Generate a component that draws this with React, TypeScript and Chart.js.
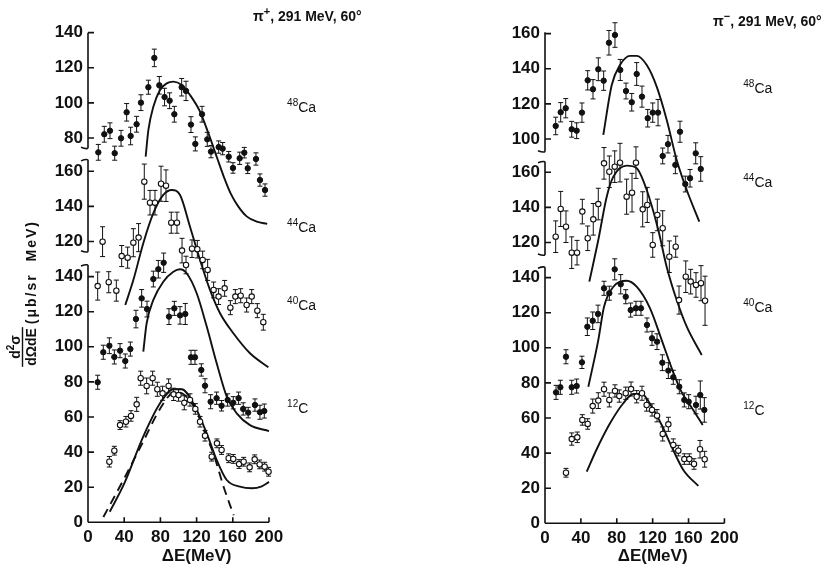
import React, { useEffect, useRef } from 'react';
import { Chart, registerables } from 'chart.js';

Chart.register(...registerables);

// ---------------- tick labels ----------------
const X_TICKS = [0, 40, 80, 120, 160, 200];
const Y_TICKS_LOW = [0, 20, 40, 60, 80, 100, 120, 140];
const Y_TICKS_44CA = [120, 140, 160];
const PIP_Y_TICKS_48CA = [80, 100, 120, 140];
const PIM_Y_TICKS_48CA = [100, 120, 140, 160];

// ---------------- pi+ data ----------------
const PIP_48CA_E = [11.4, 18, 24.3, 29.5, 36.5, 42.7, 47.1, 53.7, 58.5, 66.7, 73.3, 78.8, 84.6, 90.2, 95.4, 103.5, 108.3, 113.8, 118.6, 126, 131.8, 135.9, 144.4, 148.8, 155.5, 160.2, 167.6, 172.7, 176.5, 185.6, 190, 195.6];
const PIP_48CA_Y = [71.8, 82.1, 84.1, 71.3, 79.8, 94.6, 81.1, 87.8, 100.1, 108.9, 125.6, 110, 103.3, 101.2, 93.5, 108.9, 106.8, 87.6, 76.6, 93.5, 79.2, 72.2, 74.8, 73.9, 69.3, 62.9, 68.4, 71.6, 62.7, 68, 56, 50.3];
const PIP_48CA_ERR = [4.5, 4.5, 4.5, 4, 4.5, 5, 5, 4.5, 4.5, 4, 5, 5, 5, 4.5, 4.5, 5, 5.5, 4.5, 4, 4.5, 4, 3.5, 3.5, 3.5, 3, 3, 3.5, 3, 3, 3.5, 3.5, 3.5];

const PIP_44CA_E = [10.7, 16.1, 22.9, 31.3, 37.2, 43.8, 50.1, 55.9, 62.2, 68.5, 74, 80.7, 86.2, 92, 98.3, 103.9, 108.3, 114.9, 120.8, 126.7, 132.2, 138.8, 144.3, 151, 157.3, 162.8, 168.7, 175.3, 180.9, 187.1, 193.7];
const PIP_44CA_Y = [94.6, 119.9, 96.8, 92, 111.7, 110.8, 119.3, 122.2, 154.1, 142.1, 142.1, 152.9, 151.8, 130.7, 130.7, 114.8, 106.6, 115.9, 115.6, 109.5, 103.8, 92.4, 88.6, 93.3, 82.3, 88.6, 89.1, 83.8, 88.6, 80.6, 74];
const PIP_44CA_ERR = [8, 8.5, 6, 6, 6, 6, 8, 8, 10, 7, 7, 10, 9, 6, 6, 7, 5, 5, 5, 5, 6, 4.5, 4.5, 4.5, 4, 4, 4, 4, 4, 4, 4.5];

const PIP_40CA_E = [10.7, 16.9, 23.6, 29.1, 35.4, 41.2, 46.8, 53, 59.3, 65.2, 72.2, 77.7, 83.6, 89.5, 95.4, 101.7, 107.5, 113.8, 118.2, 125.2, 129.3, 135.5, 142.1, 147.6, 154.3, 160.5, 166.4, 171.5, 177, 184.5, 190, 194.8];
const PIP_40CA_Y = [79.8, 96.9, 100.6, 94.2, 97.8, 91.9, 98.7, 115.8, 127.6, 121.5, 138.6, 144.2, 147.9, 117.2, 121.9, 117.9, 118.7, 94, 94, 86.8, 77.8, 68.7, 70.7, 66.4, 69.7, 68.1, 70.7, 64.6, 62.5, 66.8, 62.7, 63.4];
const PIP_40CA_ERR = [4, 4, 4.5, 4, 4, 4, 4, 5, 5, 4.5, 4.5, 5, 5.5, 4.5, 4, 5, 6, 4, 4, 3.5, 4, 4, 3.5, 3, 3.5, 3.5, 3.5, 3.5, 3, 3.5, 4, 4];

const PIP_12C_E = [23.6, 29.1, 35.4, 41.9, 47.5, 53.8, 58.2, 64.8, 71.4, 76.6, 82.4, 89.1, 94.6, 100.1, 106.4, 112.7, 118.6, 123.8, 129.3, 136.7, 142.5, 147.6, 155.4, 160.5, 166.9, 172, 178.6, 184.2, 189.7, 195.2, 199.5];
const PIP_12C_Y = [34.5, 40.8, 55.4, 57.3, 60.6, 67.2, 82.1, 77.7, 82.1, 75.8, 73.5, 77.7, 72.9, 72.5, 68.1, 69.7, 64.6, 57.3, 49.3, 37.4, 45, 41.2, 36.5, 36.1, 33.2, 34.5, 31.3, 35.9, 33, 31.7, 28.8];
const PIP_12C_ERR = [3, 2.5, 2.5, 3, 3, 4, 4, 4.5, 4, 4, 4, 4, 3.5, 3.5, 4, 3.5, 3, 3, 3, 2.5, 2.5, 2.5, 2.5, 2.5, 2.5, 2.5, 2.5, 2.5, 2.5, 2.5, 2.5];

const PIP_48CA_TH_E = [63.7, 66.7, 72.2, 79.6, 86.9, 94.3, 103.5, 112.7, 123.8, 133, 142.2, 150, 158, 166, 175.3, 186.4, 198];
const PIP_48CA_TH_Y = [69.3, 84.5, 97.8, 107.3, 111.1, 112.1, 110.2, 104.5, 95, 82.7, 69.3, 58, 48, 41, 35.3, 32.3, 31];
const PIP_44CA_TH_E = [41.2, 50.1, 61.1, 72.2, 83.2, 92.5, 101.7, 112.7, 123.8, 134.8, 145.9, 160.6, 179, 199.3];
const PIP_44CA_TH_Y = [83.8, 98, 119, 136.1, 146.5, 149.3, 146.5, 128.4, 109.5, 92.4, 79.1, 67.7, 56.3, 48.3];
const PIP_40CA_TH_E = [61.1, 64.8, 72.2, 83.2, 94.3, 101.7, 109, 120.1, 131.2, 142.2, 153.3, 164.3, 179, 200];
const PIP_40CA_TH_Y = [97.2, 113.4, 126.7, 137.1, 142.8, 144.2, 141.9, 130.5, 111.5, 90.6, 71.6, 62.1, 55.4, 52];
const PIP_12C_TH_E = [24, 40, 61, 79.6, 94.3, 103.5, 116.4, 131.2, 142.2, 153.3, 167.9, 181, 192, 200];
const PIP_12C_TH_Y = [6, 22, 48.8, 67.8, 75.8, 75.8, 67.8, 50.7, 35.5, 24.1, 20.3, 19.4, 20.5, 23];
const PIP_12C_DASH_E = [17, 40, 60, 80, 93, 100, 110, 120, 130, 138.5, 150, 161];
const PIP_12C_DASH_Y = [3, 25, 45, 65, 73.5, 74, 71, 63, 50, 39.3, 20, 4];

// ---------------- pi- data ----------------
const PIM_48CA_E = [11.9, 17.5, 23.1, 29.8, 35.3, 41.2, 47.6, 53.5, 59.4, 65.4, 71.3, 78, 83.9, 90.3, 96.7, 102.2, 108.1, 114.5, 120.1, 126, 131.2, 137.1, 145.3, 150.5, 156.4, 161.7, 168, 173.6];
const PIM_48CA_Y = [107.4, 115.2, 117.5, 105.5, 104.7, 115, 133.4, 128.3, 139.7, 133.2, 154.8, 159.2, 139.3, 127.3, 120.9, 137, 124.1, 111.8, 115, 115, 90.3, 97, 85.2, 104.1, 74.3, 77.6, 91.8, 82.9];
const PIM_48CA_ERR = [5, 5.5, 5.5, 4.5, 4.5, 5.5, 5.5, 5.5, 6.5, 5.5, 7, 7, 6, 4.5, 5, 6.5, 6, 5, 5.5, 7.5, 4.5, 5, 5, 6, 4.5, 5, 6, 7];

const PIM_44CA_E = [11.9, 17.5, 23.4, 29.8, 35.7, 41.6, 47.6, 53.8, 59.4, 65.8, 71.7, 77.7, 83.6, 91, 97, 101.4, 108.9, 114, 120.1, 125.2, 131.2, 138.6, 145.7, 149.4, 156.9, 162.4, 168.3, 173.9, 178.4];
const PIM_44CA_Y = [123.3, 139.1, 129, 114.2, 114.2, 137.6, 122.4, 133.2, 141.9, 165.1, 160.3, 163.2, 165.5, 146.1, 148.4, 165.5, 138.9, 141.4, 118.6, 135.7, 128.1, 111.9, 117.6, 87.2, 100.5, 97.7, 95.8, 96.8, 86.8];
const PIM_44CA_ERR = [9, 10, 9, 9, 7, 7, 7, 9, 9, 9, 9, 9, 11, 10, 11, 9, 10, 10, 7, 9, 10, 9, 6, 8, 9, 7, 7, 10, 14];

const PIM_40CA_E = [12.3, 17.1, 23.4, 29.8, 35.3, 41.2, 47.2, 53.2, 59.1, 65.8, 71.7, 77.7, 84.4, 90, 95.5, 101.4, 107, 113.7, 119.3, 124.9, 130.8, 137.5, 143, 149.7, 155.3, 160.2, 168.3, 173.1, 177.6];
const PIM_40CA_Y = [74.6, 77.5, 94.9, 77.5, 78.2, 91.7, 112, 115.4, 119.3, 133.9, 131.1, 144.7, 136.2, 129.1, 121.5, 122.5, 122.5, 113, 105.4, 103.5, 91.5, 87, 83.2, 77.8, 70.3, 69.3, 67.4, 73.1, 64.6];
const PIM_40CA_ERR = [4, 4, 4, 4, 4, 3.5, 5, 5, 5, 4, 4, 6, 5.5, 4, 4, 4, 4, 4, 4, 4.5, 4.5, 4.5, 4, 4, 4, 4, 5, 8, 7];

const PIM_12C_E = [23.4, 29.8, 36, 41.6, 47.6, 53.2, 59.4, 65.8, 71.7, 78, 82.8, 90, 95.9, 102.2, 108.1, 113.3, 119.3, 124.9, 131.2, 137.5, 143, 148.6, 155.3, 160.9, 166.1, 172.8, 178];
const PIM_12C_Y = [28.8, 48, 49, 58.9, 56.6, 66.8, 69.9, 76.4, 70.3, 75.4, 72.5, 74.1, 76.5, 72.1, 74.1, 67.4, 64.6, 61.3, 50.9, 56.4, 44.6, 41.4, 36.6, 36.6, 33.8, 42.2, 36.5];
const PIM_12C_ERR = [2.5, 3.5, 3, 3, 3, 4, 4.5, 4, 4, 3.5, 3.5, 3.5, 4, 3.5, 4, 3.5, 3.5, 3.5, 4, 4, 3.5, 3, 3, 3, 3, 5, 4.5];

const PIM_48CA_TH_E = [65, 74.4, 83.6, 94.8, 102.2, 113.4, 124.5, 135.7, 146.8, 158, 172];
const PIM_48CA_TH_Y = [102.3, 130.7, 142.1, 147.3, 147.3, 142.1, 129.8, 110.8, 88, 70.9, 52.9];
const PIM_44CA_TH_E = [49.4, 59.4, 68.8, 76.2, 91.1, 102.2, 113.4, 126.3, 135.6, 146.8, 158, 174.7];
const PIM_44CA_TH_Y = [97.7, 121.4, 146.1, 157.5, 163.8, 162.3, 149.9, 127.1, 106.2, 87.2, 72, 55.9];
const PIM_40CA_TH_E = [48.3, 59.4, 65.8, 76.2, 91.1, 102.2, 117.1, 130.1, 143, 152, 161.6, 175.8];
const PIM_40CA_TH_Y = [77.8, 104.4, 123.4, 134.8, 138.2, 134.8, 122.5, 104.4, 86, 75, 67.4, 56];
const PIM_12C_TH_E = [46.5, 57.6, 72.5, 87.3, 98.4, 107.8, 119, 130.1, 141.2, 154.2, 170.9];
const PIM_12C_TH_Y = [29.4, 42.2, 57, 68.4, 73.7, 73.7, 66.4, 56, 43.6, 30.4, 21.3];

// ---------------- layout ----------------
const FONT = "'Liberation Sans', Arial, Helvetica, sans-serif";
const INK = '#111';

type Series = { e: number[]; y: number[]; err: number[]; open: boolean; seg: number };
type Curve = { e: number[]; y: number[]; seg: number; dashed?: boolean };
type Label = { sup: string; main: string; v: number };

interface PanelSpec {
  left: number;
  areaLeft: number;
  padRight: number;
  padTop: number;
  xAxisH: number;
  yMax: number;
  xMax: number;
  offsets: number[];
  tickSets: number[][];
  axisSegs: [number, number][];
  series: Series[];
  curves: Curve[];
  labels: Label[];
  labelE: number;
  sign: string;
  titleX: number;
  titleY: number;
  yTitle: boolean;
}

const LEFT_SPEC: PanelSpec = {
  left: 0,
  areaLeft: 88,
  padRight: 108.8,
  padTop: 22.1,
  xAxisH: 44.7,
  yMax: 285,
  xMax: 240,
  offsets: [0, 40, 139],
  tickSets: [Y_TICKS_LOW, Y_TICKS_44CA, PIP_Y_TICKS_48CA],
  axisSegs: [[0, 146.6], [154.2, 206.5], [213.1, 279]],
  series: [
    { e: PIP_48CA_E, y: PIP_48CA_Y, err: PIP_48CA_ERR, open: false, seg: 2 },
    { e: PIP_44CA_E, y: PIP_44CA_Y, err: PIP_44CA_ERR, open: true, seg: 1 },
    { e: PIP_40CA_E, y: PIP_40CA_Y, err: PIP_40CA_ERR, open: false, seg: 0 },
    { e: PIP_12C_E, y: PIP_12C_Y, err: PIP_12C_ERR, open: true, seg: 0 },
  ],
  curves: [
    { e: PIP_48CA_TH_E, y: PIP_48CA_TH_Y, seg: 2 },
    { e: PIP_44CA_TH_E, y: PIP_44CA_TH_Y, seg: 1 },
    { e: PIP_40CA_TH_E, y: PIP_40CA_TH_Y, seg: 0 },
    { e: PIP_12C_TH_E, y: PIP_12C_TH_Y, seg: 0 },
    { e: PIP_12C_DASH_E, y: PIP_12C_DASH_Y, seg: 0, dashed: true },
  ],
  labels: [
    { sup: '48', main: 'Ca', v: 233.8 },
    { sup: '44', main: 'Ca', v: 165.4 },
    { sup: '40', main: 'Ca', v: 121 },
    { sup: '12', main: 'C', v: 62.3 },
  ],
  labelE: 220,
  sign: '+',
  titleX: 253,
  titleY: 21,
  yTitle: true,
};

const RIGHT_SPEC: PanelSpec = {
  left: 414,
  areaLeft: 131,
  padRight: 67.7,
  padTop: 23.1,
  xAxisH: 43.7,
  yMax: 285,
  xMax: 240,
  offsets: [0, 40, 119],
  tickSets: [Y_TICKS_LOW, Y_TICKS_44CA, PIM_Y_TICKS_48CA],
  axisSegs: [[0, 145.9], [152.9, 206], [211.7, 279.8]],
  series: [
    { e: PIM_48CA_E, y: PIM_48CA_Y, err: PIM_48CA_ERR, open: false, seg: 2 },
    { e: PIM_44CA_E, y: PIM_44CA_Y, err: PIM_44CA_ERR, open: true, seg: 1 },
    { e: PIM_40CA_E, y: PIM_40CA_Y, err: PIM_40CA_ERR, open: false, seg: 0 },
    { e: PIM_12C_E, y: PIM_12C_Y, err: PIM_12C_ERR, open: true, seg: 0 },
  ],
  curves: [
    { e: PIM_48CA_TH_E, y: PIM_48CA_TH_Y, seg: 2 },
    { e: PIM_44CA_TH_E, y: PIM_44CA_TH_Y, seg: 1 },
    { e: PIM_40CA_TH_E, y: PIM_40CA_TH_Y, seg: 0 },
    { e: PIM_12C_TH_E, y: PIM_12C_TH_Y, seg: 0 },
  ],
  labels: [
    { sup: '48', main: 'Ca', v: 245.2 },
    { sup: '44', main: 'Ca', v: 191.6 },
    { sup: '40', main: 'Ca', v: 120.4 },
    { sup: '12', main: 'C', v: 61.7 },
  ],
  labelE: 221,
  sign: '\u2212',
  titleX: 299,
  titleY: 26,
  yTitle: false,
};

function drawParts(
  ctx: CanvasRenderingContext2D,
  x: number,
  y: number,
  parts: { t: string; sup?: boolean }[],
  size: number,
  supSize: number,
  weight: string,
  rise: number,
) {
  let cx = x;
  for (const p of parts) {
    ctx.font = `${weight} ${p.sup ? supSize : size}px ${FONT}`;
    ctx.fillText(p.t, cx, p.sup ? y - rise : y);
    cx += ctx.measureText(p.t).width;
  }
  return cx - x;
}

function measureParts(ctx: CanvasRenderingContext2D, parts: { t: string; sup?: boolean }[], size: number, supSize: number, weight: string) {
  let w = 0;
  for (const p of parts) {
    ctx.font = `${weight} ${p.sup ? supSize : size}px ${FONT}`;
    w += ctx.measureText(p.t).width;
  }
  return w;
}

function makePlugin(spec: PanelSpec, tickVals: number[]) {
  return {
    id: 'panelDecor' + spec.left,
    beforeDatasetsDraw(chart: any) {
      const ctx: CanvasRenderingContext2D = chart.ctx;
      const xs = chart.scales.x;
      const ys = chart.scales.y;
      ctx.save();
      ctx.strokeStyle = INK;
      ctx.lineWidth = 1;
      chart.data.datasets.forEach((ds: any) => {
        if (!ds.errs) return;
        ds.data.forEach((p: any, i: number) => {
          const px = xs.getPixelForValue(p.x);
          const y1 = ys.getPixelForValue(p.y + ds.errs[i]);
          const y2 = ys.getPixelForValue(p.y - ds.errs[i]);
          ctx.beginPath();
          ctx.moveTo(px, y1);
          ctx.lineTo(px, y2);
          ctx.moveTo(px - 2.5, y1);
          ctx.lineTo(px + 2.5, y1);
          ctx.moveTo(px - 2.5, y2);
          ctx.lineTo(px + 2.5, y2);
          ctx.stroke();
        });
      });
      ctx.restore();
    },
    afterDraw(chart: any) {
      const ctx: CanvasRenderingContext2D = chart.ctx;
      const xs = chart.scales.x;
      const ys = chart.scales.y;
      const x0 = xs.getPixelForValue(0);
      const xEnd = xs.getPixelForValue(X_TICKS[X_TICKS.length - 1]);
      const yb = ys.getPixelForValue(0);
      ctx.save();
      ctx.strokeStyle = INK;
      ctx.lineWidth = 1.6;
      ctx.lineCap = 'butt';
      ctx.beginPath();
      ctx.moveTo(x0, yb);
      ctx.lineTo(xEnd, yb);
      X_TICKS.forEach((t) => {
        const px = xs.getPixelForValue(t);
        ctx.moveTo(px, yb);
        ctx.lineTo(px, yb - 5);
      });
      spec.axisSegs.forEach(([a, b], i) => {
        const pa = ys.getPixelForValue(a);
        const pb = ys.getPixelForValue(b);
        ctx.moveTo(x0, pa);
        ctx.lineTo(x0, pb);
        if (i < spec.axisSegs.length - 1) {
          ctx.moveTo(x0, pb);
          ctx.quadraticCurveTo(x0 - 2, pb - 1, x0 - 7, pb + 1);
        }
        if (i > 0) {
          ctx.moveTo(x0, pa);
          ctx.quadraticCurveTo(x0 - 2, pa + 1, x0 - 7, pa - 1);
        }
      });
      tickVals.forEach((v) => {
        const py = ys.getPixelForValue(v);
        ctx.moveTo(x0, py);
        ctx.lineTo(x0 + 6, py);
      });
      ctx.stroke();

      // isotope labels
      ctx.fillStyle = INK;
      ctx.textBaseline = 'alphabetic';
      ctx.textAlign = 'left';
      const lx = xs.getPixelForValue(spec.labelE);
      spec.labels.forEach((l) => {
        drawParts(ctx, lx, ys.getPixelForValue(l.v), [{ t: l.sup, sup: true }, { t: l.main }], 14, 10, 'normal', 6);
      });

      // panel title
      drawParts(
        ctx,
        spec.titleX,
        spec.titleY,
        [{ t: '\u03c0' }, { t: spec.sign, sup: true }, { t: ', 291 MeV, 60\u00b0' }],
        14,
        11,
        'bold',
        6,
      );

      // y-axis title
      if (spec.yTitle) {
        ctx.translate(30, 347);
        ctx.rotate(-Math.PI / 2);
        const num = [{ t: 'd' }, { t: '2', sup: true }, { t: '\u03c3' }];
        const nw = measureParts(ctx, num, 14, 10, 'bold');
        drawParts(ctx, -nw / 2, -10, num, 14, 10, 'bold', 6);
        ctx.font = `bold 14px ${FONT}`;
        const den = 'd\u03a9dE';
        const dw = ctx.measureText(den).width;
        ctx.fillText(den, -dw / 2, 6);
        ctx.lineWidth = 1.4;
        ctx.beginPath();
        ctx.moveTo(-dw / 2 - 1, -7.5);
        ctx.lineTo(dw / 2 + 1, -7.5);
        ctx.stroke();
        (ctx as any).letterSpacing = '2px';
        ctx.fillText('(\u03bcb/sr  MeV)', dw / 2 + 4, 6);
        (ctx as any).letterSpacing = '0px';
      }
      ctx.restore();
    },
  };
}

function buildConfig(spec: PanelSpec): any {
  const ticks: { v: number; label: string }[] = [];
  spec.tickSets.forEach((set, s) => set.forEach((t) => ticks.push({ v: t + spec.offsets[s], label: String(t) })));

  const datasets: any[] = [];
  spec.curves.forEach((c) => {
    const off = spec.offsets[c.seg];
    datasets.push({
      type: 'line',
      data: c.e.map((e, i) => ({ x: e, y: c.y[i] + off })),
      borderColor: INK,
      borderWidth: 1.9,
      borderDash: c.dashed ? [9, 6] : [],
      pointRadius: 0,
      cubicInterpolationMode: 'monotone',
      fill: false,
      showLine: true,
      order: 2,
    });
  });
  spec.series.forEach((s) => {
    const off = spec.offsets[s.seg];
    datasets.push({
      type: 'scatter',
      data: s.e.map((e, i) => ({ x: e, y: s.y[i] + off })),
      errs: s.err,
      pointRadius: 2.7,
      pointBackgroundColor: s.open ? '#ffffff' : INK,
      pointBorderColor: INK,
      pointBorderWidth: s.open ? 1.1 : 1,
      showLine: false,
      order: 1,
    });
  });

  const tickFont = { family: FONT, size: 17, weight: 'bold' as const };

  return {
    type: 'scatter',
    data: { datasets },
    plugins: [makePlugin(spec, ticks.map((t) => t.v))],
    options: {
      responsive: false,
      animation: false,
      devicePixelRatio: 1,
      events: [],
      layout: { padding: { left: 0, right: spec.padRight, top: spec.padTop, bottom: 0 } },
      plugins: { legend: { display: false }, tooltip: { enabled: false }, title: { display: false } },
      scales: {
        x: {
          type: 'linear',
          min: 0,
          max: spec.xMax,
          afterBuildTicks: (s: any) => {
            s.ticks = X_TICKS.map((v) => ({ value: v }));
          },
          afterFit: (s: any) => {
            s.height = spec.xAxisH;
          },
          grid: { display: false, drawTicks: false, tickLength: 0 },
          border: { display: false },
          ticks: {
            color: INK,
            font: tickFont,
            padding: 5,
            maxRotation: 0,
            autoSkip: false,
            callback: (v: any) => String(v),
          },
          title: {
            display: true,
            text: '\u0394E(MeV)',
            color: INK,
            font: { family: FONT, size: 17, weight: 'bold' },
            padding: { top: 0, bottom: 0 },
          },
        },
        y: {
          type: 'linear',
          min: 0,
          max: spec.yMax,
          afterBuildTicks: (s: any) => {
            s.ticks = ticks.map((t) => ({ value: t.v }));
          },
          afterFit: (s: any) => {
            s.width = spec.areaLeft;
          },
          grid: { display: false, drawTicks: false, tickLength: 0 },
          border: { display: false },
          ticks: {
            color: INK,
            font: tickFont,
            padding: 5,
            autoSkip: false,
            callback: (_v: any, i: number) => (ticks[i] ? ticks[i].label : ''),
          },
        },
      },
    },
  };
}

function Panel({ spec }: { spec: PanelSpec }) {
  const ref = useRef<HTMLCanvasElement | null>(null);
  useEffect(() => {
    if (!ref.current) return;
    const chart = new Chart(ref.current, buildConfig(spec));
    return () => chart.destroy();
  }, [spec]);
  return (
    <canvas
      ref={ref}
      width={414}
      height={567}
      style={{ position: 'absolute', left: spec.left, top: 0, width: 414, height: 567 }}
    />
  );
}

export default function App() {
  return (
    <div style={{ position: 'absolute', left: 0, top: 0, width: 828, height: 567, background: '#ffffff', overflow: 'hidden' }}>
      <Panel spec={LEFT_SPEC} />
      <Panel spec={RIGHT_SPEC} />
    </div>
  );
}
